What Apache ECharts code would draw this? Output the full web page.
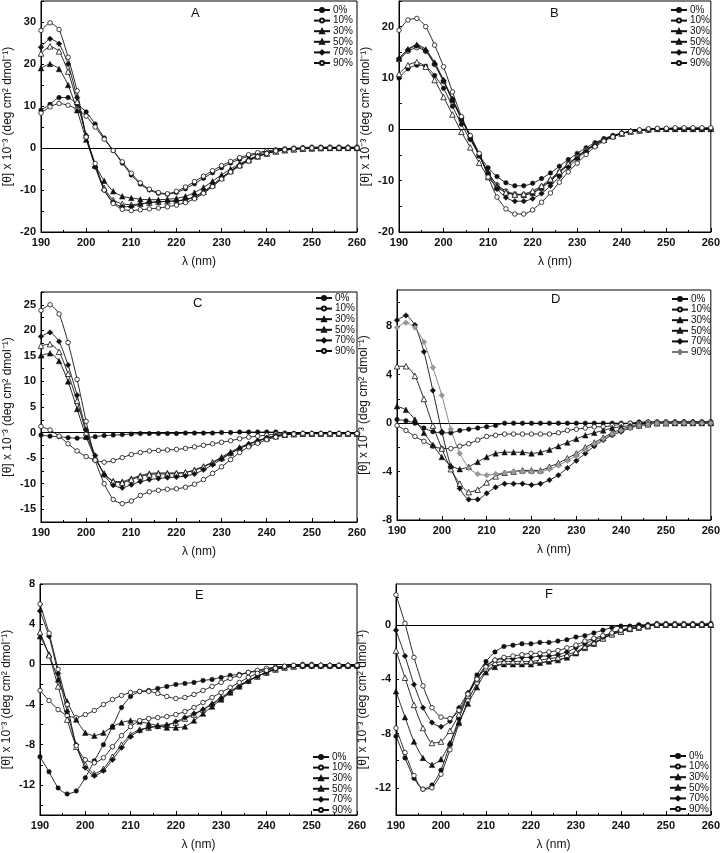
<!DOCTYPE html>
<html>
<head>
<meta charset="utf-8">
<script src="https://cdn.jsdelivr.net/npm/echarts@6/dist/echarts.min.js"></script>
<style>
html,body{margin:0;padding:0;background:#fff;}
#chart{width:723px;height:853px;}
</style>
</head>
<body>
<div id="chart"></div>
<script>
// Wavelengths (nm)
const WL = [190,192,194,196,198,200,202,204,206,208,210,212,214,216,218,220,222,224,226,228,230,232,234,236,238,240,242,244,246,248,250,252,254,256,258,260];
const SERIES_NAMES = ['0%','10%','30%','50%','70%','90%'];
const PANEL_LABELS = ['A','B','C','D','E','F'];
const X_TICKS = [190,200,210,220,230,240,250,260];

// Panel A
const A0  = [9.0,10.4,12.0,12.0,10.4,8.6,5.7,2.4,-0.6,-3.6,-6.4,-8.6,-10.0,-10.8,-11.0,-10.6,-9.7,-8.5,-7.2,-5.9,-4.7,-3.6,-2.7,-1.9,-1.4,-1.0,-0.6,-0.4,-0.2,-0.1,0.0,0.1,0.1,0.1,0.1,0.1];
const A10 = [8.3,9.8,10.6,10.2,9.2,7.6,5.0,2.1,-0.6,-3.3,-6.0,-8.3,-9.8,-10.6,-10.9,-10.3,-9.3,-8.0,-6.7,-5.4,-4.2,-3.2,-2.3,-1.6,-1.1,-0.7,-0.4,-0.2,0.0,0.1,0.2,0.2,0.2,0.2,0.2,0.2];
const A30 = [19.0,20.0,18.8,15.0,9.0,2.0,-4.0,-7.8,-10.3,-11.5,-11.9,-12.2,-12.3,-12.3,-12.2,-12.0,-11.5,-10.6,-9.4,-7.9,-6.4,-5.0,-3.8,-2.7,-1.9,-1.3,-0.8,-0.5,-0.3,-0.2,-0.1,0.0,0.0,0.0,0.0,0.0];
const A50 = [22.5,24.2,23.0,18.2,11.0,3.0,-4.2,-9.5,-12.4,-13.3,-13.5,-13.3,-13.0,-12.8,-12.7,-12.6,-12.3,-11.6,-10.4,-8.8,-7.1,-5.5,-4.1,-2.9,-2.0,-1.3,-0.8,-0.5,-0.3,-0.1,0.0,0.0,0.1,0.1,0.1,0.1];
const A70 = [24.0,26.0,24.8,20.0,12.0,3.0,-4.5,-10.0,-12.9,-14.0,-13.9,-13.4,-13.0,-12.8,-12.7,-12.6,-12.3,-11.7,-10.6,-8.9,-7.1,-5.5,-4.0,-2.8,-1.9,-1.2,-0.7,-0.4,-0.2,-0.1,0.0,0.0,0.0,0.0,0.0,0.0];
const A90 = [28.0,29.8,28.2,21.6,13.6,2.6,-3.7,-10.0,-13.2,-14.6,-14.9,-14.7,-14.5,-14.3,-14.0,-13.6,-13.0,-12.1,-10.8,-9.2,-7.4,-5.7,-4.3,-3.1,-2.1,-1.3,-0.7,-0.4,-0.2,-0.1,0.0,0.0,0.0,0.0,0.0,0.0];

// Panel B
const B0  = [10.0,11.8,12.5,12.3,10.5,8.0,4.5,1.0,-2.0,-5.0,-7.5,-9.2,-10.4,-11.0,-11.0,-10.5,-9.6,-8.5,-7.2,-5.9,-4.7,-3.6,-2.6,-1.8,-1.2,-0.7,-0.4,-0.2,-0.1,0.0,0.0,0.0,0.0,0.0,0.0,0.0];
const B10 = [13.5,15.2,15.9,15.2,12.6,9.3,5.6,2.0,-1.5,-5.2,-8.5,-10.8,-12.0,-12.6,-12.7,-12.3,-11.2,-9.9,-8.3,-6.8,-5.3,-4.0,-2.9,-2.0,-1.3,-0.8,-0.4,-0.2,0.0,0.1,0.1,0.2,0.2,0.2,0.2,0.2];
const B30 = [13.8,15.6,16.5,15.6,13.0,9.6,5.8,2.1,-1.4,-5.0,-8.4,-10.9,-12.2,-12.7,-12.8,-12.4,-11.4,-10.1,-8.5,-6.9,-5.4,-4.1,-3.0,-2.0,-1.3,-0.8,-0.4,-0.2,0.0,0.1,0.1,0.1,0.1,0.1,0.1,0.1];
const B50 = [10.8,12.5,13.1,12.2,9.6,6.3,2.9,-0.5,-3.5,-6.5,-9.3,-11.3,-12.3,-12.7,-12.6,-12.0,-11.0,-9.7,-8.2,-6.7,-5.3,-4.0,-2.9,-2.0,-1.3,-0.8,-0.4,-0.2,0.0,0.1,0.1,0.1,0.1,0.1,0.1,0.1];
const B70 = [13.8,15.5,16.3,15.3,12.8,9.5,5.9,2.3,-1.3,-5.0,-8.6,-11.6,-13.3,-14.0,-14.0,-13.5,-12.5,-11.0,-9.2,-7.4,-5.7,-4.3,-3.1,-2.1,-1.4,-0.8,-0.4,-0.2,-0.1,0.0,0.0,0.0,0.0,0.0,0.0,0.0];
const B90 = [19.3,21.3,21.6,20.0,16.4,12.2,7.3,2.5,-1.2,-4.7,-9.3,-13.2,-15.5,-16.5,-16.5,-15.7,-14.2,-12.4,-10.3,-8.3,-6.6,-4.9,-3.4,-2.3,-1.5,-0.8,-0.4,-0.1,0.1,0.2,0.2,0.3,0.3,0.3,0.3,0.3];

// Panel C
const C0  = [-0.5,-0.7,-0.8,-1.0,-1.1,-1.0,-0.8,-0.6,-0.5,-0.4,-0.3,-0.2,-0.2,-0.2,-0.2,-0.2,-0.1,-0.1,-0.1,-0.1,0.0,0.0,0.1,0.1,0.1,0.1,0.1,-0.1,-0.2,-0.2,-0.2,-0.2,-0.2,-0.2,-0.2,-0.2];
const C10 = [1.2,0.5,-0.7,-2.2,-3.6,-4.7,-5.4,-5.8,-5.5,-4.9,-4.3,-3.9,-3.6,-3.5,-3.4,-3.3,-3.1,-2.8,-2.5,-2.2,-1.9,-1.6,-1.2,-0.9,-0.7,-0.5,-0.3,-0.2,-0.2,-0.2,-0.2,-0.2,-0.2,-0.2,-0.2,-0.2];
const C30 = [15.1,15.5,14.0,10.0,4.6,-0.8,-5.0,-8.0,-9.5,-9.6,-9.0,-8.4,-8.0,-7.9,-7.9,-7.9,-7.8,-7.3,-6.6,-5.8,-4.8,-3.8,-2.9,-2.2,-1.6,-1.1,-0.7,-0.4,-0.3,-0.2,-0.2,-0.2,-0.2,-0.2,-0.2,-0.2];
const C50 = [17.0,17.3,15.8,11.5,6.2,0.0,-4.8,-8.1,-9.6,-9.8,-9.2,-8.6,-8.2,-8.1,-8.1,-8.0,-7.8,-7.4,-6.7,-5.9,-5.0,-4.0,-3.1,-2.3,-1.7,-1.1,-0.7,-0.4,-0.3,-0.2,-0.2,-0.2,-0.2,-0.2,-0.2,-0.2];
const C70 = [18.8,19.6,17.8,13.2,7.3,0.5,-4.5,-8.3,-10.3,-10.8,-10.2,-9.6,-9.2,-9.0,-8.8,-8.7,-8.5,-8.1,-7.3,-6.3,-5.2,-4.1,-3.1,-2.3,-1.6,-1.0,-0.6,-0.4,-0.3,-0.2,-0.2,-0.2,-0.2,-0.2,-0.2,-0.2];
const C90 = [23.9,25.0,23.2,17.6,10.4,2.2,-5.4,-10.0,-13.1,-13.9,-13.4,-12.3,-11.6,-11.3,-11.1,-11.0,-10.7,-10.1,-9.2,-8.0,-6.7,-5.3,-3.9,-2.8,-2.1,-1.4,-0.9,-0.5,-0.3,-0.2,-0.2,-0.2,-0.2,-0.2,-0.2,-0.2];

// Panel D
const D0  = [0.3,0.2,0.0,-0.4,-0.7,-0.8,-0.8,-0.6,-0.5,-0.4,-0.3,-0.2,0.0,0.0,0.0,0.0,0.0,0.0,0.0,0.0,0.0,0.0,0.0,0.0,0.0,0.0,0.0,0.1,0.1,0.1,0.1,0.1,0.1,0.1,0.1,0.1];
const D10 = [-0.2,-0.6,-1.1,-1.5,-1.9,-2.1,-2.1,-1.9,-1.7,-1.4,-1.1,-1.0,-0.9,-0.9,-0.9,-0.9,-0.9,-0.9,-0.8,-0.6,-0.5,-0.4,-0.3,-0.3,-0.2,-0.1,0.0,0.0,0.1,0.1,0.1,0.1,0.1,0.1,0.1,0.1];
const D30 = [1.4,1.1,0.3,-0.8,-1.8,-2.8,-3.5,-3.8,-3.6,-3.2,-2.8,-2.5,-2.4,-2.4,-2.4,-2.5,-2.4,-2.2,-1.9,-1.6,-1.3,-1.0,-0.8,-0.6,-0.4,-0.3,-0.2,-0.1,0.0,0.0,0.0,0.0,0.0,0.0,0.0,0.0];
const D50 = [4.7,4.7,3.9,2.0,-0.2,-2.1,-3.8,-5.0,-5.7,-5.5,-4.9,-4.4,-4.1,-4.0,-3.9,-3.9,-3.9,-3.6,-3.3,-2.9,-2.5,-2.0,-1.6,-1.2,-0.8,-0.5,-0.3,-0.2,-0.1,0.0,0.0,0.1,0.1,0.1,0.1,0.1];
const D70 = [8.5,8.9,8.1,5.9,2.7,-0.7,-3.6,-5.4,-6.3,-6.3,-5.8,-5.3,-5.0,-5.0,-5.0,-5.1,-5.0,-4.7,-4.3,-3.7,-3.1,-2.5,-1.9,-1.4,-1.0,-0.7,-0.4,-0.2,-0.1,0.0,0.0,0.0,0.0,0.0,0.0,0.0];
const D90 = [7.9,8.3,7.9,6.7,4.6,2.3,-0.5,-2.5,-3.7,-4.2,-4.3,-4.2,-4.1,-4.0,-4.0,-4.0,-4.0,-3.8,-3.5,-3.1,-2.7,-2.2,-1.7,-1.3,-0.9,-0.6,-0.4,-0.2,-0.1,0.0,0.0,0.0,0.0,0.0,0.0,0.0];

// Panel E
const E0  = [-9.2,-10.7,-12.3,-12.9,-12.6,-11.3,-9.6,-8.0,-6.2,-4.3,-3.2,-2.7,-2.6,-2.4,-2.2,-2.0,-1.9,-1.8,-1.6,-1.5,-1.3,-1.1,-1.0,-0.8,-0.7,-0.5,-0.3,-0.2,-0.2,-0.2,-0.2,-0.2,-0.2,-0.2,-0.2,-0.2];
const E10 = [-2.6,-3.6,-4.5,-5.1,-5.3,-5.0,-4.6,-4.0,-3.5,-3.1,-2.8,-2.7,-2.7,-2.9,-3.2,-3.4,-3.3,-3.0,-2.6,-2.2,-1.8,-1.4,-1.1,-0.8,-0.6,-0.4,-0.3,-0.2,-0.1,0.0,0.0,-0.1,-0.1,-0.1,-0.1,-0.1];
const E30 = [2.8,1.0,-1.5,-3.7,-5.5,-6.8,-7.1,-6.8,-6.2,-5.8,-5.6,-5.7,-5.9,-6.1,-6.3,-6.3,-6.2,-5.6,-4.9,-4.2,-3.5,-2.8,-2.2,-1.6,-1.2,-0.8,-0.5,-0.3,-0.2,-0.1,-0.1,-0.1,-0.1,-0.1,-0.1,-0.1];
const E50 = [3.2,0.9,-2.2,-5.5,-8.2,-10.0,-10.9,-10.4,-9.2,-8.0,-7.0,-6.5,-6.3,-6.1,-6.0,-5.8,-5.4,-5.0,-4.5,-3.9,-3.3,-2.7,-2.1,-1.6,-1.2,-0.8,-0.5,-0.3,-0.2,-0.1,-0.1,-0.1,-0.1,-0.1,-0.1,-0.1];
const E70 = [5.3,2.8,-0.9,-4.7,-8.0,-10.3,-11.1,-10.6,-9.5,-8.3,-7.2,-6.6,-6.3,-6.2,-6.1,-5.7,-5.3,-4.9,-4.5,-4.0,-3.4,-2.8,-2.2,-1.7,-1.2,-0.8,-0.5,-0.3,-0.2,-0.2,-0.2,-0.2,-0.2,-0.2,-0.2,-0.2];
const E90 = [6.0,3.1,-0.5,-4.0,-8.1,-9.5,-9.8,-9.3,-8.2,-7.1,-6.2,-5.6,-5.4,-5.3,-5.2,-5.0,-4.7,-4.3,-3.8,-3.3,-2.8,-2.3,-1.8,-1.3,-0.9,-0.6,-0.4,-0.2,-0.1,-0.1,-0.1,-0.1,-0.1,-0.1,-0.1,-0.1];

// Panel F
const F0  = [-8.2,-9.8,-11.3,-12.1,-11.8,-10.7,-8.8,-6.9,-5.2,-3.7,-2.7,-2.0,-1.6,-1.5,-1.4,-1.4,-1.3,-1.3,-1.2,-1.1,-0.9,-0.8,-0.6,-0.4,-0.2,-0.1,-0.1,0.0,0.0,0.1,0.1,0.1,0.1,0.1,0.1,0.1];
const F10 = [-7.6,-9.4,-11.1,-12.1,-12.0,-11.0,-9.2,-7.3,-5.6,-4.3,-3.4,-3.0,-2.9,-2.9,-2.9,-2.8,-2.8,-2.7,-2.6,-2.4,-2.1,-1.7,-1.4,-1.0,-0.7,-0.5,-0.3,-0.2,-0.1,0.0,0.0,0.0,0.0,0.0,0.0,0.0];
const F30 = [-4.9,-6.8,-8.6,-9.8,-10.3,-9.9,-8.7,-7.2,-5.8,-4.6,-3.5,-3.1,-2.9,-2.9,-2.9,-2.9,-2.8,-2.7,-2.6,-2.4,-2.1,-1.7,-1.4,-1.0,-0.7,-0.5,-0.3,-0.2,-0.1,0.0,0.0,0.0,0.0,0.0,0.0,0.0];
const F50 = [-1.9,-3.9,-5.9,-7.6,-8.7,-8.6,-7.8,-6.6,-5.2,-4.0,-3.2,-2.8,-2.7,-2.7,-2.7,-2.7,-2.6,-2.5,-2.4,-2.2,-2.0,-1.6,-1.3,-1.0,-0.7,-0.5,-0.3,-0.2,-0.1,0.0,0.0,0.0,0.0,0.0,0.0,0.0];
const F70 = [-0.4,-2.3,-4.4,-6.1,-7.2,-7.5,-7.1,-6.1,-5.0,-3.9,-3.0,-2.6,-2.5,-2.5,-2.4,-2.4,-2.3,-2.3,-2.2,-2.0,-1.7,-1.4,-1.1,-0.9,-0.6,-0.4,-0.2,-0.1,0.0,0.0,0.0,0.0,0.0,0.0,0.0,0.0];
const F90 = [2.2,0.1,-2.4,-4.5,-6.1,-6.8,-6.9,-6.3,-5.1,-4.0,-3.1,-2.6,-2.4,-2.3,-2.2,-2.1,-2.1,-2.0,-1.9,-1.7,-1.5,-1.2,-1.0,-0.8,-0.6,-0.4,-0.3,-0.2,-0.1,0.0,0.0,0.0,0.0,0.0,0.0,0.0];

// Y tick labels per panel
const Y_LABELS_A = [-20,-10,0,10,20,30];
const Y_LABELS_B = [-20,-10,0,10,20];
const Y_LABELS_C = [-15,-10,-5,0,5,10,15,20,25];
const Y_LABELS_D = [-8,-4,0,4,8];
const Y_LABELS_E = [-12,-8,-4,0,4,8];
const Y_LABELS_F = [-12,-8,-4,0];

const PANEL_DATA = [
  [A0,A10,A30,A50,A70,A90],
  [B0,B10,B30,B50,B70,B90],
  [C0,C10,C30,C50,C70,C90],
  [D0,D10,D30,D50,D70,D90],
  [E0,E10,E30,E50,E70,E90],
  [F0,F10,F30,F50,F70,F90]
];
const Y_LABELS = [Y_LABELS_A,Y_LABELS_B,Y_LABELS_C,Y_LABELS_D,Y_LABELS_E,Y_LABELS_F];

// layout / style (not data)
const LAYOUT = [
  {grid:{left:41,top:1,width:316,height:231}, ymin:-20, ymax:35, tickStep:5, legend:{left:313,top:5}, letter:[196,15]},
  {grid:{left:399,top:1,width:316,height:231}, ymin:-20, ymax:25, tickStep:5, legend:{left:670,top:5}, letter:[555,15]},
  {grid:{left:41,top:292,width:316,height:230}, ymin:-17.5, ymax:27.5, tickStep:2.5, legend:{left:315,top:293}, letter:[198,305]},
  {grid:{left:397,top:290,width:317,height:230}, ymin:-8, ymax:11, tickStep:2, legend:{left:671,top:294}, letter:[556,301]},
  {grid:{left:40,top:584,width:317,height:231}, ymin:-15, ymax:8, tickStep:2, legend:{left:312,top:752}, letter:[200,597]},
  {grid:{left:396,top:584,width:317,height:231}, ymin:-14, ymax:3, tickStep:2, legend:{left:669,top:751}, letter:[550,596]}
];
// marker styles: [shape, hollow]
const MARKERS = [['circle',false],['circle',true],['triangle',false],['triangle',true],['diamond',false],['circle',true]];
const FONT = '"Liberation Sans", Arial, sans-serif';

function tickValues(min, max, step){
  const out = [];
  const start = Math.ceil(min/step - 1e-9);
  const end = Math.floor(max/step + 1e-9);
  for (let k = start; k <= end; k++) out.push(+(k*step).toFixed(4));
  return out;
}

const grids = [], xAxes = [], yAxes = [], series = [], legends = [], graphics = [];
LAYOUT.forEach((L, p) => {
  grids.push(Object.assign({show:true, borderColor:'#000', borderWidth:1, backgroundColor:'transparent'}, L.grid));
  xAxes.push({
    type:'value', gridIndex:p, min:190, max:260, interval:10,
    name:'λ (nm)', nameLocation:'middle', nameGap:24,
    nameTextStyle:{fontFamily:FONT, fontSize:12, color:'#111'},
    axisLine:{show:true, onZero:false, lineStyle:{color:'#000', width:1}},
    axisTick:{show:true, inside:true, length:4, lineStyle:{color:'#000'}},
    minorTick:{show:true, splitNumber:2, length:2, lineStyle:{color:'#000'}},
    axisLabel:{fontFamily:FONT, fontSize:11, fontWeight:'bold', color:'#111', margin:5,
      customValues: X_TICKS},
    splitLine:{show:false}
  });
  yAxes.push({
    type:'value', gridIndex:p, min:L.ymin, max:L.ymax,
    name:'[θ] x 10⁻³ (deg cm² dmol⁻¹)', nameLocation:'middle', nameGap:27,
    nameTextStyle:{fontFamily:FONT, fontSize:12, color:'#111'},
    axisLine:{show:true, onZero:false, lineStyle:{color:'#000', width:1}},
    axisTick:{show:true, inside:true, length:3, lineStyle:{color:'#000'},
      customValues: tickValues(L.ymin, L.ymax, L.tickStep)},
    axisLabel:{fontFamily:FONT, fontSize:11, fontWeight:'bold', color:'#111', margin:5,
      customValues: Y_LABELS[p]},
    splitLine:{show:false}
  });
  PANEL_DATA[p].forEach((vals, s) => {
    const isD90 = (p === 3 && s === 5);
    const [shape, hollow] = isD90 ? ['diamond', false] : MARKERS[s];
    const lineColor = isD90 ? '#777' : '#111';
    const ser = {
      type:'line', name: isD90 ? '90% ' : SERIES_NAMES[s],
      xAxisIndex:p, yAxisIndex:p,
      data: WL.map((x, j) => [x, vals[j]]),
      symbol: shape,
      symbolSize: shape === 'triangle' ? 5.5 : (shape === 'diamond' ? 5.5 : 4.5),
      showAllSymbol: true,
      smooth: 0.2,
      lineStyle:{color: lineColor, width:0.9},
      itemStyle: hollow
        ? {color:'#fff', borderColor:'#111', borderWidth:0.8}
        : {color: isD90 ? '#999' : '#111', borderColor: isD90 ? '#777' : '#111', borderWidth:0.5},
      emphasis:{disabled:true},
      z: 3
    };
    if (s === 0) {
      ser.markLine = {silent:true, symbol:'none', animation:false,
        label:{show:false}, lineStyle:{color:'#000', width:1, type:'solid'},
        data:[{yAxis:0}], z:2};
    }
    series.push(ser);
  });
  legends.push({
    left:L.legend.left, top:L.legend.top, orient:'vertical',
    itemWidth:16, itemHeight:5, itemGap:0.6,
    textStyle:{fontFamily:FONT, fontSize:10, color:'#111', lineHeight:10, padding:[0,0,0,-2]},
    padding:0,
    data: p === 3 ? ['0%','10%','30%','50%','70%','90% '] : SERIES_NAMES,
    selectedMode:false
  });
  graphics.push({
    type:'text', left:L.letter[0]-5, top:L.letter[1]-8,
    style:{text:PANEL_LABELS[p], font:'13px ' + FONT, fill:'#111'}
  });
});

const chart = echarts.init(document.getElementById('chart'), null, {renderer:'canvas'});
chart.setOption({
  animation:false,
  backgroundColor:'#fff',
  grid:grids, xAxis:xAxes, yAxis:yAxes, series:series, legend:legends, graphic:graphics
});
</script>
</body>
</html>
